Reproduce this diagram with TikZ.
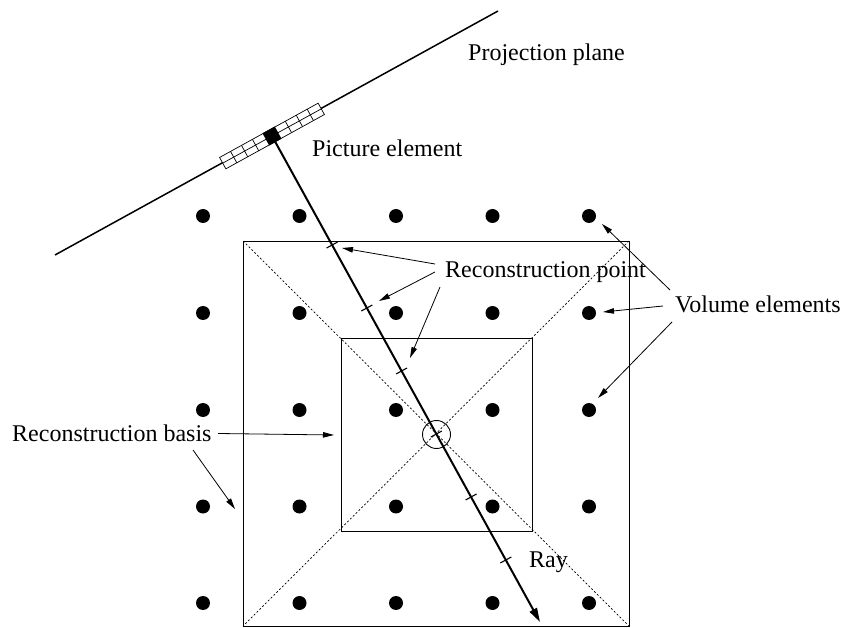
\documentclass[tikz,border=0pt]{standalone}
\usepackage{fontspec}
\setmainfont{Liberation Serif}
\usetikzlibrary{arrows.meta,calc}
\begin{document}
\begin{tikzpicture}[x=1pt,y=-1pt,
 dot/.style={circle,fill=black,inner sep=0pt,minimum size=14pt},
 lbl/.style={anchor=base west,inner sep=0pt,font=\fontsize{24}{28}\selectfont},
 pointer/.style={-{Triangle[length=11pt,width=5.5pt]},line width=0.8pt},
 diag/.style={line width=0.7pt,dash pattern=on 2pt off 2pt},
 box/.style={line width=0.9pt},
 cell/.style={line width=0.7pt},
 tickmark/.style={line width=1.1pt}]
\useasboundingbox (0,0) rectangle (844,628);
% squares
\draw[box] (243,241) rectangle (629,626);
\draw[box] (341,338) rectangle (532,531);
\draw[diag] (243,241) -- (629,626);
\draw[diag] (629,241) -- (243,626);
% dots
\foreach \i/\x in {1/203,2/299.5,3/396,4/492.5,5/589}
  \foreach \j/\y in {1/216,2/313,3/410,4/506.5,5/603}
    \node[dot] (d\i\j) at (\x,\y) {};
% projection plane
\coordinate (PL1) at (55,255);
\coordinate (PL2) at (498,11);
\draw[line width=1.5pt] (PL1) -- (PL2);
% picture element strip
\begin{scope}[shift={(272,136)},rotate=28.85]
  \draw[cell,fill=white] (-56.25,-6.5) rectangle (56.25,6.5);
  \draw[cell] (-56.25,0) -- (56.25,0);
  \foreach \k in {-43.75,-31.25,-18.75,18.75,31.25,43.75}
    \draw[cell] (\k,-6.5) -- (\k,6.5);
  \fill (-7,-7) rectangle (7,7);
\end{scope}
% ray
\coordinate (P) at (272,136);
\coordinate (E) at (540,622);
\draw[line width=2pt,-{Triangle[length=14pt,width=8pt]}] (P) -- (E);
% circle at centre
\node[circle,draw,minimum size=28pt,inner sep=0pt,line width=0.9pt] (c) at (436.5,434.5) {};
% ticks
\foreach \t [count=\n] in {0.2243,0.3539,0.4835,0.6132,0.7428,0.8724}{
  \coordinate (T\n) at ($(P)!\t!(E)$);
  \draw[tickmark] ($(T\n)+(-5.5,3)$) -- ($(T\n)+(5.5,-3)$);
}
% labels
\node[lbl] (lplane) at (468,61) {Projection plane};
\node[lbl] (lpix) at (312,157) {Picture element};
\node[lbl] (lrp) at (445,278) {Reconstruction point};
\node[lbl] (lve) at (675,313) {Volume elements};
\node[lbl] (lrb) at (12,442) {Reconstruction basis};
\node[lbl] (lray) at (529,567) {Ray};
% reconstruction point arrows
\coordinate (rp1) at (435,264);
\coordinate (rp2) at (435,272);
\coordinate (rp3) at (440,287);
\coordinate (rpt1) at (342,248);
\coordinate (rpt2) at (379,301);
\coordinate (rpt3) at (410,358);
\draw[pointer] (rp1) -- (rpt1);
\draw[pointer] (rp2) -- (rpt2);
\draw[pointer] (rp3) -- (rpt3);
% volume elements arrows
\coordinate (ve1) at (670,290);
\coordinate (ve2) at (663,306);
\coordinate (ve3) at (672,322);
\coordinate (vet1) at (602,224);
\coordinate (vet2) at (603,312);
\coordinate (vet3) at (598,398);
\draw[pointer] (ve1) -- (vet1);
\draw[pointer] (ve2) -- (vet2);
\draw[pointer] (ve3) -- (vet3);
% reconstruction basis arrows
\coordinate (rb1) at (218,433.5);
\coordinate (rb2) at (193,450);
\coordinate (rbt1) at (334,435);
\coordinate (rbt2) at (235,509);
\draw[pointer] (rb1) -- (rbt1);
\draw[pointer] (rb2) -- (rbt2);
\end{tikzpicture}
\end{document}
